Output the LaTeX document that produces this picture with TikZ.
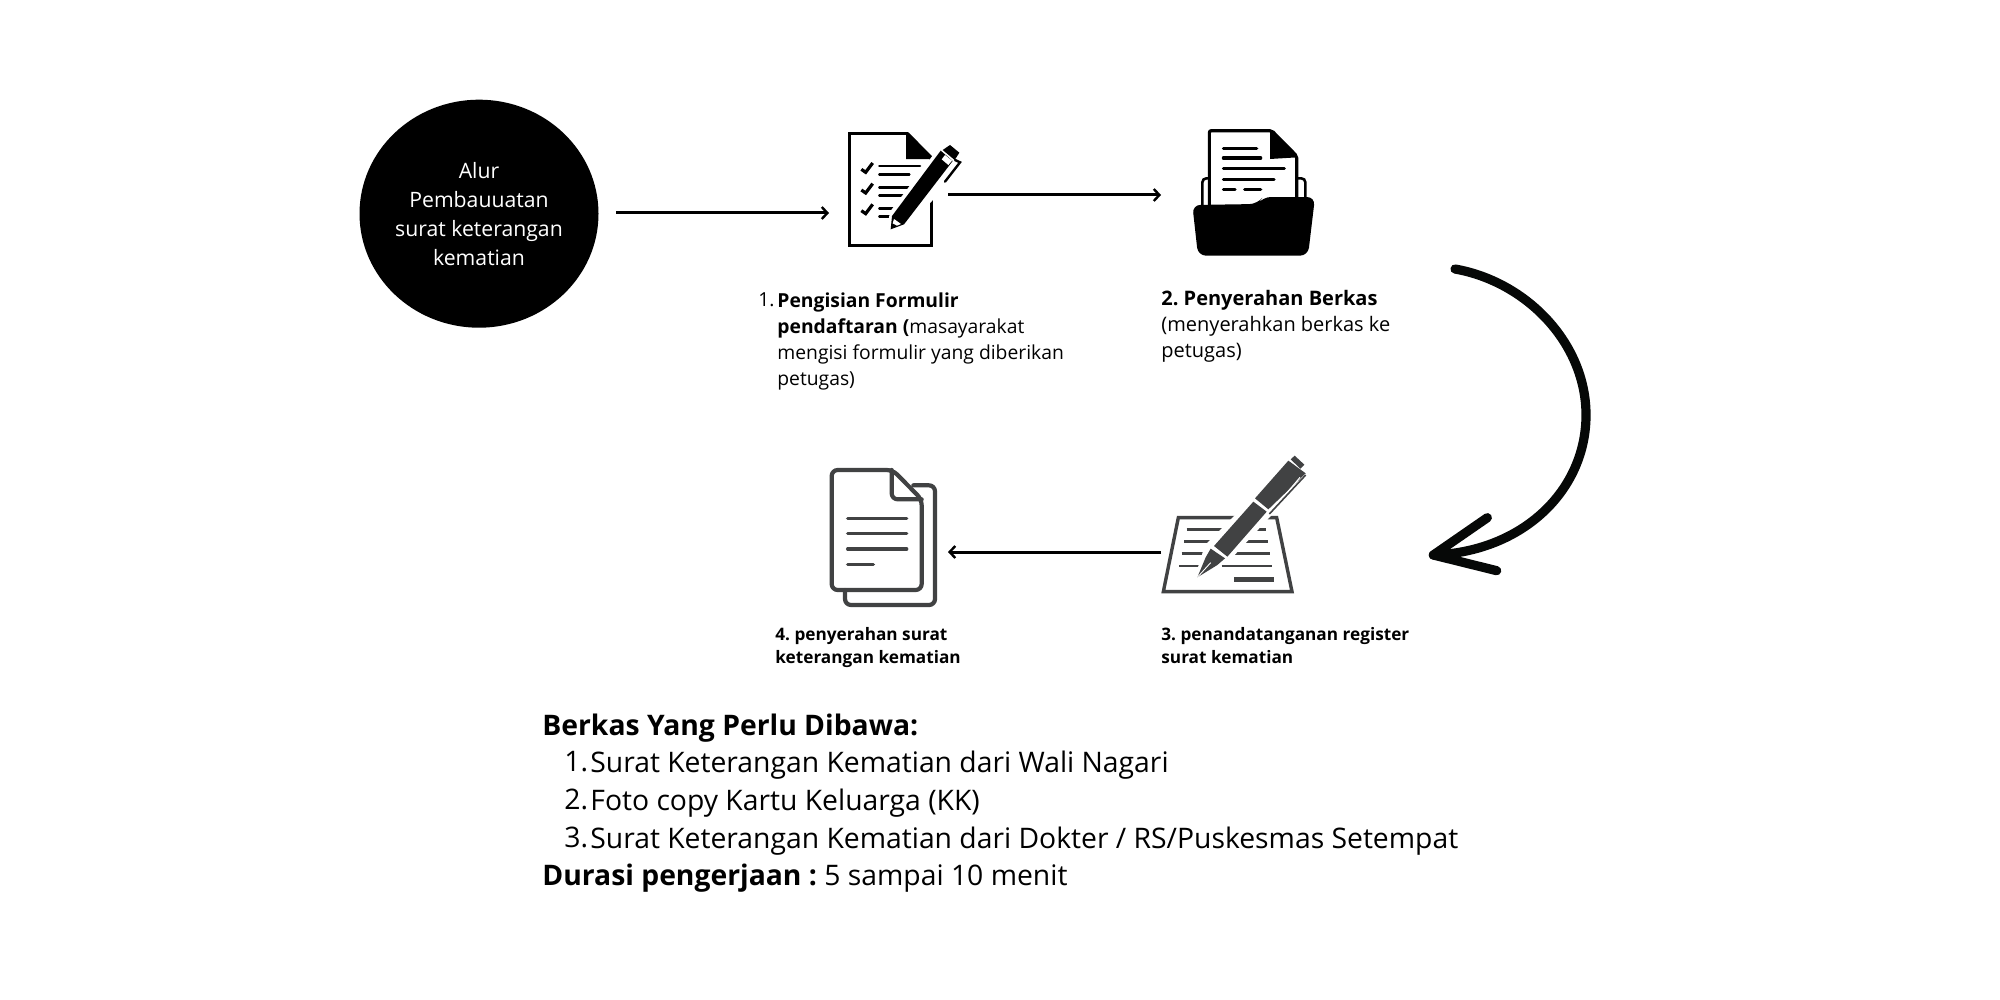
\documentclass[tikz,border=0pt]{standalone}
\usepackage{fontspec}
\setmainfont{Open Sans}
\frenchspacing
\usetikzlibrary{arrows.meta,shapes.geometric}
\definecolor{icongrey}{HTML}{414243}
\definecolor{arrowblack}{HTML}{060807}
\tikzset{
  flow/.style={draw=black,line width=1.5pt,-{Straight Barb[length=2.8pt,width=6pt,line width=1.2pt]}},
  textblock/.style={anchor=north west,inner sep=0pt,align=left,text=black,font=\fontsize{9.65}{13}\selectfont},
  smalllabel/.style={anchor=north west,inner sep=0pt,align=left,text=black,font=\fontsize{8.6}{11.5}\selectfont\bfseries},
  biglabel/.style={anchor=north west,inner sep=0pt,align=left,text=black,font=\fontsize{14.15}{19}\selectfont},
  blackline/.style={draw=black,line width=1.3pt,line cap=round},
  paperline/.style={draw=black,line width=1.6pt,line cap=round},
  greyline/.style={draw=icongrey,line width=1.35pt,line cap=butt},
  docline/.style={draw=icongrey,line width=2.1pt,line cap=round,line join=round},
  zoomed/.style={x=0.16667pt,y=-0.16667pt}
}
\begin{document}
\begin{tikzpicture}[x=0.5pt,y=-0.5pt]
\useasboundingbox (0,0) rectangle (2000,1000);
\fill[white] (0,0) rectangle (2000,1000);

% start circle
\node (start) at (479,213.7) [ellipse,fill=black,inner sep=0pt,minimum width=119.5pt,minimum height=114pt,align=center,text=white,font=\fontsize{10.6}{14.5}\selectfont] {Alur\\Pembauuatan\\surat keterangan\\kematian};

% form icon
\begin{scope}[shift={(820,110)},zoomed]
  \draw[line width=1.5pt,line join=miter] (265,70) -- (87,70) -- (87,405) -- (333,405) -- (333,270);
  \draw[line width=1.5pt] (262,70) -- (333,142) -- (333,155);
  \fill (258,70) -- (335,147) -- (258,147) -- cycle;
  \foreach \y in {178,240,302} \draw[line width=1.6pt,line cap=butt] (124,\y) -- (137,\y+9) -- (158,\y-19);
  \foreach \a/\b/\y in {178/300/168,178/268/193,178/285/232,178/265/256,178/238/295,178/228/320}
    \draw[blackline] (\a,\y) -- (\b,\y);
  \fill[white] (198,374) -- (210,305) -- (372,92) -- (430,130) -- (430,170) -- (264,352) -- cycle;
  \fill (212,358) -- (216,318) -- (362,122) -- (398,153) -- (252,343) -- cycle;
  \fill (368,120) -- (390,105) -- (418,128) -- (404,150) -- cycle;
  \fill[white] (365,148) -- (375,135) -- (396,152) -- (385,165) -- cycle;
  \fill[white] (222,327) -- (243,342) -- (231,347) -- (218,340) -- cycle;
  \draw[line width=1.2pt,line cap=round] (405,150) -- (420,157) -- (375,215);
\end{scope}

% folder icon
\begin{scope}[shift={(1170,110)},zoomed]
  \draw[line width=1.6pt,rounded corners=1pt] (118,285) -- (118,62) -- (305,62) -- (380,138) -- (380,265);
  \fill (300,62) -- (382,142) -- (300,147) -- cycle;
  \draw[line width=1.3pt,rounded corners=2pt] (97,285) -- (97,205) -- (118,205);
  \draw[line width=1.3pt,rounded corners=2pt] (382,205) -- (406,205) -- (406,265);
  \foreach \a/\b/\y in {160/260/116,160/272/144,160/343/176,160/312/208,160/195/238,224/272/238}
    \draw[paperline] (\a,\y) -- (\b,\y);
  \fill[rounded corners=4pt] (67,285) -- (262,282) -- (279,261) -- (435,261) -- (414,437) -- (84,437) -- cycle;
\end{scope}

% signing icon
\begin{scope}[shift={(1140,440)},zoomed]
  \draw[icongrey,line width=1.7pt,line join=miter] (115,233) -- (410,233) -- (456,455) -- (70,455) -- cycle;
  \foreach \a/\b/\y in {140/255/268,335/378/268,133/228/304,305/383/304,125/190/340,272/390/340,118/178/378,245/397/378}
    \draw[greyline] (\a,\y) -- (\b,\y);
  \draw[greyline,line width=2.2pt] (282,418) -- (403,418);
  \fill[white] (160,425) -- (195,315) -- (340,170) -- (395,225) -- (270,360) -- cycle;
  \fill[icongrey] (172,412) -- (197,352) -- (212,326) -- (255,355) -- (232,375) -- cycle;
  \fill[icongrey] (222,318) -- (340,185) -- (380,215) -- (262,350) -- cycle;
  \fill[icongrey] (345,175) -- (445,62) -- (497,100) -- (385,208) -- cycle;
  \fill[icongrey] (452,58) -- (464,47) -- (493,74) -- (481,86) -- cycle;
  \draw[white,line width=.5pt] (395,212) -- (480,112);
  \draw[icongrey,line width=.8pt] (388,222) -- (497,105);
  \draw[white,line width=.45pt] (172,412) -- (212,368);
\end{scope}

% document icon
\begin{scope}[shift={(810,455)},zoomed]
  \draw[docline,rounded corners=3pt] (310,91) -- (375,91) -- (375,450) -- (105,450) -- (105,405);
  \draw[docline,rounded corners=3pt] (65,45) -- (248,45) -- (335,133) -- (335,405) -- (65,405) -- cycle;
  \draw[docline,rounded corners=3pt] (245,45) -- (245,133) -- (335,133);
  \foreach \a/\b/\y in {113/290/190,113/290/236,113/290/282,113/190/328}
    \draw[docline,line width=1.7pt] (\a,\y) -- (\b,\y);
\end{scope}

% connectors
\coordinate (s1) at (616,213); \coordinate (e1) at (829,213);
\coordinate (s2) at (948,195); \coordinate (e2) at (1161,195);
\coordinate (s3) at (1161,552); \coordinate (e3) at (948,552);
\draw[flow] (s1) -- (e1);
\draw[flow] (s2) -- (e2);
\draw[flow] (s3) -- (e3);

% big curved arrow
\begin{scope}[shift={(1400,250)},zoomed]
  \coordinate (cs) at (165,57);
  \coordinate (cm) at (558,495);
  \coordinate (ce) at (100,915);
  \coordinate (h1) at (262,803);
  \coordinate (h2) at (290,962);
  \draw[arrowblack,line width=4.6pt,line cap=round,line join=round]
    (cs) .. controls (380,95) and (558,280) .. (cm) .. controls (558,720) and (370,905) .. (ce);
  \draw[arrowblack,line width=4.6pt,line cap=round,line join=round] (h1) -- (ce) -- (h2);
\end{scope}

% labels
\node[anchor=north west,inner sep=0pt,font=\fontsize{9.65}{13}\selectfont] (n1) at (758,292.7) {1.};
\node[textblock] (l1) at (777,292.7) {\textbf{Pengisian Formulir}\\\textbf{pendaftaran (}masayarakat\\mengisi formulir yang diberikan\\petugas)};
\node[textblock,font=\fontsize{10}{13}\selectfont] (l2) at (1161,290) {\textbf{2. Penyerahan Berkas}\\(menyerahkan berkas ke\\petugas)};
\node[smalllabel] (l4) at (775,627) {4. penyerahan surat\\keterangan kematian};
\node[smalllabel] (l3) at (1161,627) {3. penandatanganan register\\surat kematian};

\node[biglabel] (t0) at (542,713.5) {\textbf{Berkas Yang Perlu Dibawa:}};
\node[biglabel] (n1b) at (564,751) {1.};
\node[biglabel] (t1) at (590,751) {Surat Keterangan Kematian dari Wali Nagari};
\node[biglabel] (n2b) at (564,789) {2.};
\node[biglabel] (t2) at (590,789) {Foto copy Kartu Keluarga (KK)};
\node[biglabel] (n3b) at (564,827) {3.};
\node[biglabel] (t3) at (590,827) {Surat Keterangan Kematian dari Dokter / RS/Puskesmas Setempat};
\node[biglabel] (t4) at (542,864) {\textbf{Durasi pengerjaan :} 5 sampai 10 menit};
\end{tikzpicture}
\end{document}
